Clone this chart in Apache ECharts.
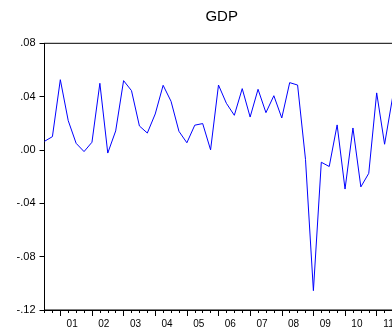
<!DOCTYPE html>
<html>
<head>
<meta charset="utf-8">
<script src="https://cdn.jsdelivr.net/npm/echarts@6/dist/echarts.min.js"></script>
<style>html,body{margin:0;padding:0;overflow:hidden;background:#fff;width:392px;height:331px}#c{width:420px;height:331px}</style>
</head>
<body>
<div id="c"></div>
<script>
// Quarterly categories 2000Q3 .. 2011Q4
const quarters = [];
for (let y = 2000; y <= 2011; y++) for (let q = 1; q <= 4; q++) {
  if (y === 2000 && q < 3) continue;
  quarters.push(y + 'Q' + q);
}
// GDP values (2000Q3 .. 2011Q3); 2011Q4 not visible
const gdp = [0.0065, 0.010, 0.0527, 0.022, 0.005, -0.0012, 0.0058, 0.050,
  -0.0023, 0.0143, 0.052, 0.0445, 0.018, 0.0127, 0.027, 0.0485,
  0.0365, 0.014, 0.0054, 0.0186, 0.0198, 0.0001, 0.0487, 0.035,
  0.026, 0.046, 0.0247, 0.0455, 0.028, 0.0407, 0.024, 0.0505,
  0.0487, -0.007, -0.1055, -0.0092, -0.0124, 0.0188, -0.0293, 0.0165,
  -0.0277, -0.0175, 0.0428, 0.0043, 0.039, null];
const yTicks = [-0.12, -0.08, -0.04, 0.00, 0.04, 0.08];
const title = 'GDP';

function fmtY(v) {
  if (Math.abs(v) < 1e-9) return '.00';
  return (v < 0 ? '-' : '') + Math.abs(v).toFixed(2).replace(/^0/, '');
}
const isQ1 = (i, v) => /Q1$/.test(v);

const chart = echarts.init(document.getElementById('c'), null, {renderer: 'canvas'});
chart.setOption({
  animation: false,
  backgroundColor: '#fff',
  graphic: [{
    type: 'text', x: 221.7, y: 16.5,
    style: {text: title, font: '15px "Liberation Sans", Arial, sans-serif', fill: '#000',
      textAlign: 'center', textVerticalAlign: 'middle'}
  }],
  grid: {left: 44.5, top: 43.3, width: 355.9, height: 266.7, show: true,
    borderColor: '#000', borderWidth: 1, backgroundColor: 'transparent'},
  xAxis: [{
    type: 'category', data: quarters, boundaryGap: false, position: 'bottom',
    axisLine: {onZero: false, lineStyle: {color: '#000', width: 1}},
    axisTick: {show: true, interval: 0, length: 3, lineStyle: {color: '#000'}},
    axisLabel: {show: false},
    splitLine: {show: false}
  }, {
    type: 'category', data: quarters, boundaryGap: false, position: 'bottom',
    axisLine: {show: false, onZero: false},
    axisTick: {show: true, interval: isQ1, length: 6, lineStyle: {color: '#000'}},
    axisLabel: {show: true, interval: isQ1, margin: 9, color: '#000',
      fontFamily: '"Liberation Sans", Arial, sans-serif', fontSize: 10,
      align: 'center', padding: [0, 0, 0, 23.7], hideOverlap: false,
      formatter: v => v.slice(2, 4)},
    splitLine: {show: false}
  }],
  yAxis: {
    type: 'value', min: -0.12, max: 0.08, interval: 0.04,
    axisLine: {show: true, onZero: false, lineStyle: {color: '#000', width: 1}},
    axisTick: {show: true, length: 5, lineStyle: {color: '#000'}},
    axisLabel: {color: '#000', margin: 9, fontSize: 11,
      fontFamily: '"Liberation Sans", Arial, sans-serif', formatter: fmtY},
    splitLine: {show: false}
  },
  series: [{
    type: 'line', data: gdp, xAxisIndex: 0, symbol: 'none',
    lineStyle: {color: '#0000ff', width: 1}, connectNulls: false
  }]
});
</script>
</body>
</html>
